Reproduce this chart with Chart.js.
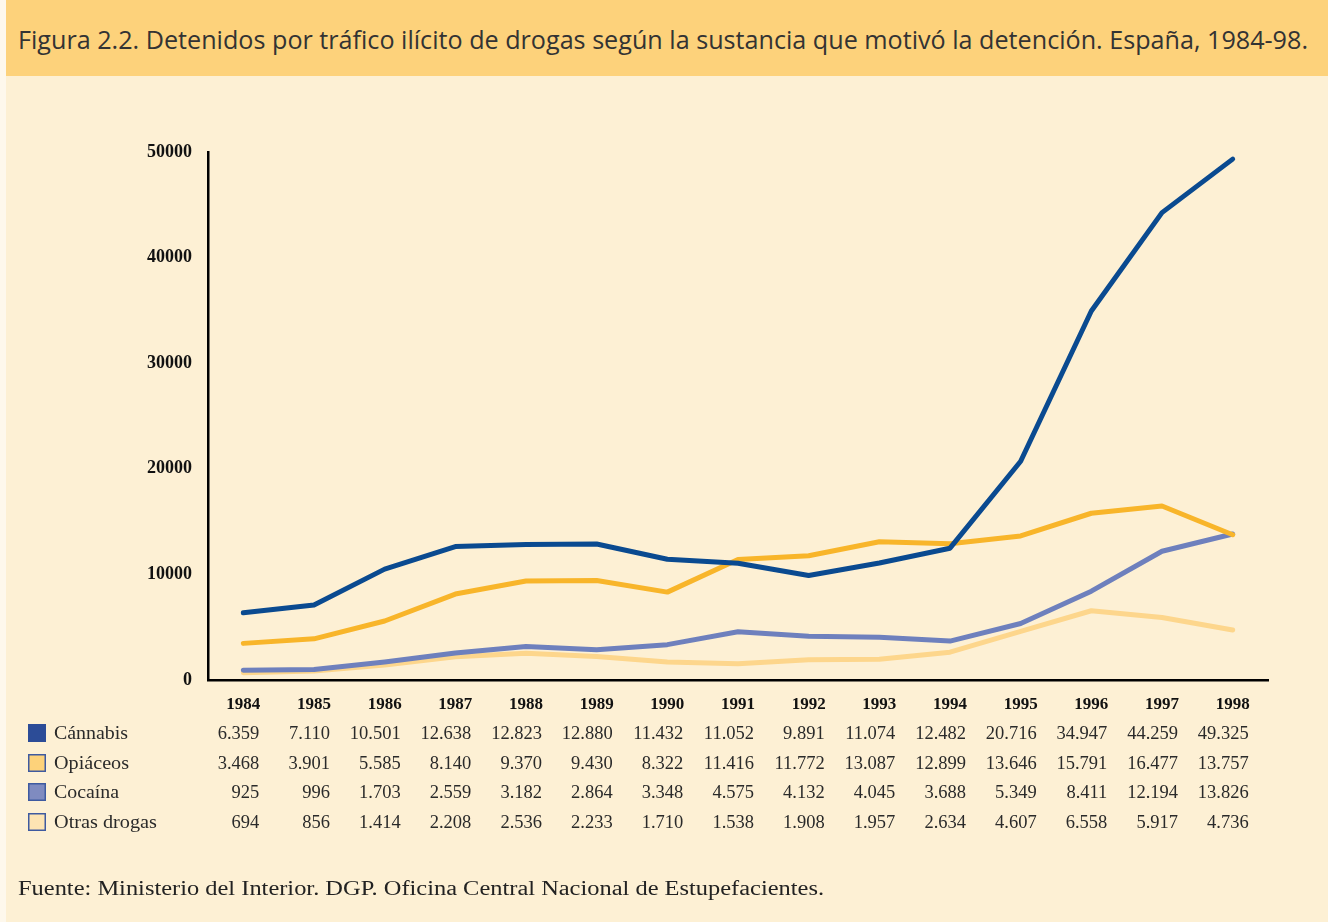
<!DOCTYPE html>
<html><head><meta charset="utf-8">
<script src="https://cdn.jsdelivr.net/npm/chart.js@4/dist/chart.umd.min.js"></script>
<style>
html,body{margin:0;padding:0;}
body{width:1328px;height:922px;background:#FEF8EC;position:relative;overflow:hidden;}
#panel{position:absolute;left:6px;top:0;width:1322px;height:922px;background:#FDF0D4;}
#title{position:absolute;left:6px;top:0;width:1322px;height:76px;background:#FDD27B;}
#title span{position:absolute;left:12px;top:22px;font-family:"Liberation Sans Narrow","Open Sans",sans-serif;font-size:25px;color:#333;white-space:nowrap;transform-origin:0 0;}
#wrap{position:absolute;left:0;top:76px;width:1328px;height:846px;}
</style></head>
<body>
<div id="panel"></div>
<div id="title"><span id="tt">Figura 2.2. Detenidos por tráfico ilícito de drogas según la sustancia que motivó la detención. España, 1984-98.</span></div>
<div id="wrap"><canvas id="c" width="1328" height="846"></canvas></div>
<script>
const years = ["1984","1985","1986","1987","1988","1989","1990","1991","1992","1993","1994","1995","1996","1997","1998"];
const cannabis = [6359,7110,10501,12638,12823,12880,11432,11052,9891,11074,12482,20716,34947,44259,49325];
const opiaceos = [3468,3901,5585,8140,9370,9430,8322,11416,11772,13087,12899,13646,15791,16477,13757];
const cocaina = [925,996,1703,2559,3182,2864,3348,4575,4132,4045,3688,5349,8411,12194,13826];
const otras = [694,856,1414,2208,2536,2233,1710,1538,1908,1957,2634,4607,6558,5917,4736];
const seriesNames = ["Cánnabis","Opiáceos","Cocaína","Otras drogas"];
const yTicks = [0,10000,20000,30000,40000,50000];
const sourceText = "Fuente: Ministerio del Interior. DGP. Oficina Central Nacional de Estupefacientes.";

// fit title width
(function(){const s=document.getElementById('tt');const w=s.getBoundingClientRect().width;const target=1290;s.style.transform='scaleX('+(target/w)+')';})();

const lineColors = ["#0A4A90","#F8B52A","#6E80BD","#FDD68C"];
const swatchFill = ["#2C4C97","#FDD27A","#7F8BC0","#FDE4B3"];
const allData = [cannabis,opiaceos,cocaina,otras];

function fmt(v){return v.toString().replace(/\B(?=(\d{3})+(?!\d))/g,'.');}

function fitText(ctx,txt,x,y,targetW){
  const w=ctx.measureText(txt).width;
  ctx.save();ctx.translate(x,y);ctx.scale(targetW/w,1);ctx.fillText(txt,0,0);ctx.restore();
}

const tablePlugin = {
  id:'tablePlugin',
  afterDraw(chart){
    const ctx=chart.ctx, xs=chart.scales.x;
    const rowY=[733,763,792,822].map(v=>v-76);
    const labelW=[74,75,65,103];
    ctx.save();
    ctx.textBaseline='middle';
    allData.forEach((arr,r)=>{
      ctx.fillStyle=swatchFill[r];
      ctx.fillRect(28,rowY[r]-9,18,18);
      if(r>0){ctx.strokeStyle='#3E5AA0';ctx.lineWidth=1.5;ctx.strokeRect(28.75,rowY[r]-8.25,16.5,16.5);}
      ctx.fillStyle='#2a2a2a';
      ctx.textAlign='left';
      ctx.font='19px "Liberation Serif", serif';
      fitText(ctx,seriesNames[r],54,rowY[r]+1,labelW[r]);
      ctx.textAlign='right';
      ctx.font='18.5px "Liberation Serif", serif';
      arr.forEach((v,i)=>{
        ctx.fillText(fmt(v),xs.getPixelForValue(i)+16,rowY[r]+1);
      });
    });
    ctx.textAlign='left';
    ctx.font='20px "Liberation Serif", serif';
    ctx.fillStyle='#222';
    fitText(ctx,sourceText,18,890-76,806);
    ctx.restore();
  }
};

new Chart(document.getElementById('c'),{
  type:'line',
  data:{labels:years,datasets:allData.map((d,i)=>({
    label:seriesNames[i],data:d,borderColor:lineColors[i],backgroundColor:lineColors[i],
    borderWidth:5,pointRadius:0,tension:0,borderCapStyle:'round',borderJoinStyle:'round',fill:false
  }))},
  options:{
    responsive:false,animation:false,
    layout:{padding:{left:0,right:60,top:76,bottom:0}},
    plugins:{legend:{display:false},tooltip:{enabled:false}},
    scales:{
      x:{offset:true,grid:{display:false,drawTicks:false},border:{display:true,color:'#000',width:2.5},
        ticks:{padding:14,color:'#111',font:{family:'"Liberation Serif", serif',size:17,weight:'bold'},maxRotation:0,autoSkip:false},
        afterFit(s){s.height=846-604;}},
      y:{min:0,max:50000,grid:{display:false,drawTicks:false},border:{display:true,color:'#000',width:2.5},
        afterBuildTicks(s){s.ticks=yTicks.map(v=>({value:v}));},
        ticks:{padding:16,color:'#111',font:{family:'"Liberation Serif", serif',size:18,weight:'bold'},callback:v=>String(v)},
        afterFit(s){s.width=208;}}
    }
  },
  plugins:[tablePlugin]
});
</script>
</body></html>
